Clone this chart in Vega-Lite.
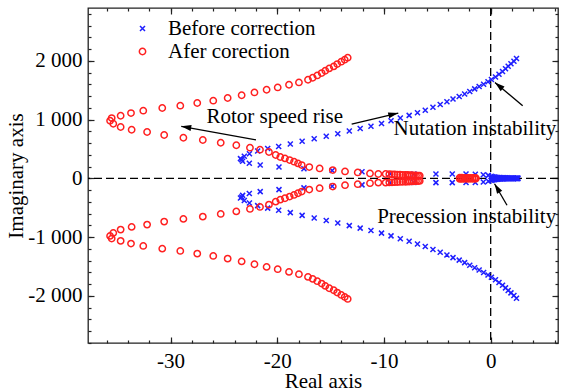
{
"$schema": "https://vega.github.io/schema/vega-lite/v6.json",
"width": 470, "height": 335,
"autosize": {"type": "none"},
"padding": {"left": 88, "top": 8, "right": 5, "bottom": 49},
"background": "white",
"config": {"view": {"stroke": "#222222", "strokeWidth": 1.3}, "font": "Liberation Serif"},
"resolve": {"axis": {"x": "independent", "y": "independent"}},
"datasets": {
"zero": [{"v": 0}],
"notes": [{"re": -20.24, "im": 941, "label": "Rotor speed rise"}, {"re": -1.47, "im": 742, "label": "Nutation instability"}, {"re": -2.25, "im": -761, "label": "Precession instability"}],
"arrows": [{"id": 1, "x0": -22.0, "y0": 655, "x1": -29.0, "y1": 885}, {"id": 2, "x0": -13.03, "y0": 921, "x1": -8.66, "y1": 1111}, {"id": 3, "x0": 3.0, "y0": 1236, "x1": 0.40, "y1": 1632}, {"id": 4, "x0": 1.53, "y0": -458, "x1": 0.36, "y1": -92}],
"pts": [
{"re":-23.34,"im":317,"s":"b"},{"re":-23.09,"im":376,"s":"b"},{"re":-22.61,"im":419,"s":"b"},{"re":-21.84,"im":465,"s":"b"},{"re":-20.90,"im":507,"s":"b"},{"re":-19.87,"im":543,"s":"b"},{"re":-18.78,"im":584,"s":"b"},{"re":-17.67,"im":631,"s":"b"},{"re":-16.54,"im":674,"s":"b"},{"re":-15.41,"im":717,"s":"b"},{"re":-14.33,"im":759,"s":"b"},{"re":-13.25,"im":805,"s":"b"},{"re":-12.23,"im":848,"s":"b"},{"re":-11.22,"im":887,"s":"b"},{"re":-10.23,"im":933,"s":"b"},{"re":-9.34,"im":980,"s":"b"},{"re":-8.47,"im":1028,"s":"b"},{"re":-7.64,"im":1071,"s":"b"},{"re":-6.86,"im":1117,"s":"b"},{"re":-6.13,"im":1159,"s":"b"},{"re":-5.41,"im":1210,"s":"b"},{"re":-4.73,"im":1258,"s":"b"},{"re":-4.10,"im":1304,"s":"b"},{"re":-3.53,"im":1350,"s":"b"},{"re":-2.95,"im":1392,"s":"b"},{"re":-2.44,"im":1435,"s":"b"},{"re":-1.96,"im":1479,"s":"b"},{"re":-1.50,"im":1522,"s":"b"},{"re":-1.08,"im":1562,"s":"b"},{"re":-0.66,"im":1602,"s":"b"},{"re":-0.25,"im":1644,"s":"b"},{"re":0.07,"im":1683,"s":"b"},{"re":0.45,"im":1726,"s":"b"},{"re":0.78,"im":1772,"s":"b"},{"re":1.11,"im":1819,"s":"b"},{"re":1.39,"im":1865,"s":"b"},{"re":1.64,"im":1908,"s":"b"},{"re":1.90,"im":1950,"s":"b"},{"re":2.18,"im":1993,"s":"b"},{"re":2.42,"im":2041,"s":"b"},
{"re":-23.34,"im":-317,"s":"b"},{"re":-23.09,"im":-376,"s":"b"},{"re":-22.61,"im":-419,"s":"b"},{"re":-21.84,"im":-465,"s":"b"},{"re":-20.90,"im":-507,"s":"b"},{"re":-19.87,"im":-543,"s":"b"},{"re":-18.78,"im":-584,"s":"b"},{"re":-17.67,"im":-631,"s":"b"},{"re":-16.54,"im":-674,"s":"b"},{"re":-15.41,"im":-717,"s":"b"},{"re":-14.33,"im":-759,"s":"b"},{"re":-13.25,"im":-805,"s":"b"},{"re":-12.23,"im":-848,"s":"b"},{"re":-11.22,"im":-887,"s":"b"},{"re":-10.23,"im":-933,"s":"b"},{"re":-9.34,"im":-980,"s":"b"},{"re":-8.47,"im":-1028,"s":"b"},{"re":-7.64,"im":-1071,"s":"b"},{"re":-6.86,"im":-1117,"s":"b"},{"re":-6.13,"im":-1159,"s":"b"},{"re":-5.41,"im":-1210,"s":"b"},{"re":-4.73,"im":-1258,"s":"b"},{"re":-4.10,"im":-1304,"s":"b"},{"re":-3.53,"im":-1350,"s":"b"},{"re":-2.95,"im":-1392,"s":"b"},{"re":-2.44,"im":-1435,"s":"b"},{"re":-1.96,"im":-1479,"s":"b"},{"re":-1.50,"im":-1522,"s":"b"},{"re":-1.08,"im":-1562,"s":"b"},{"re":-0.66,"im":-1602,"s":"b"},{"re":-0.25,"im":-1644,"s":"b"},{"re":0.07,"im":-1683,"s":"b"},{"re":0.45,"im":-1726,"s":"b"},{"re":0.78,"im":-1772,"s":"b"},{"re":1.11,"im":-1819,"s":"b"},{"re":1.39,"im":-1865,"s":"b"},{"re":1.64,"im":-1908,"s":"b"},{"re":1.90,"im":-1950,"s":"b"},{"re":2.18,"im":-1993,"s":"b"},{"re":2.42,"im":-2041,"s":"b"},
{"re":-23.45,"im":335,"s":"b"},{"re":-23.25,"im":290,"s":"b"},{"re":-22.62,"im":257,"s":"b"},{"re":-21.6,"im":226,"s":"b"},{"re":-19.84,"im":192,"s":"b"},{"re":-17.5,"im":163,"s":"b"},{"re":-14.85,"im":134,"s":"b"},{"re":-12.06,"im":112,"s":"b"},{"re":-9.44,"im":78,"s":"b"},{"re":-7.19,"im":72,"s":"b"},{"re":-5.13,"im":73,"s":"b"},{"re":-3.6,"im":73,"s":"b"},{"re":-2.31,"im":72,"s":"b"},{"re":-1.44,"im":70,"s":"b"},{"re":-0.69,"im":62,"s":"b"},{"re":-0.22,"im":50,"s":"b"},
{"re":-23.45,"im":-335,"s":"b"},{"re":-23.25,"im":-290,"s":"b"},{"re":-22.62,"im":-257,"s":"b"},{"re":-21.6,"im":-226,"s":"b"},{"re":-19.84,"im":-192,"s":"b"},{"re":-17.5,"im":-163,"s":"b"},{"re":-14.85,"im":-134,"s":"b"},{"re":-12.06,"im":-112,"s":"b"},{"re":-9.44,"im":-78,"s":"b"},{"re":-7.19,"im":-72,"s":"b"},{"re":-5.13,"im":-73,"s":"b"},{"re":-3.6,"im":-73,"s":"b"},{"re":-2.31,"im":-72,"s":"b"},{"re":-1.44,"im":-70,"s":"b"},{"re":-0.69,"im":-62,"s":"b"},{"re":-0.22,"im":-50,"s":"b"},
{"re":0.05,"im":35,"s":"b"},{"re":0.2,"im":28,"s":"b"},{"re":0.35,"im":22,"s":"b"},{"re":0.5,"im":18,"s":"b"},{"re":0.65,"im":15,"s":"b"},{"re":0.8,"im":13,"s":"b"},{"re":0.95,"im":11,"s":"b"},{"re":1.1,"im":10,"s":"b"},{"re":1.25,"im":9,"s":"b"},{"re":1.4,"im":8,"s":"b"},{"re":1.55,"im":8,"s":"b"},{"re":1.7,"im":7,"s":"b"},{"re":1.85,"im":7,"s":"b"},{"re":2.0,"im":6,"s":"b"},{"re":2.15,"im":6,"s":"b"},{"re":2.3,"im":5,"s":"b"},{"re":2.45,"im":5,"s":"b"},{"re":2.55,"im":5,"s":"b"},
{"re":0.05,"im":-35,"s":"b"},{"re":0.2,"im":-28,"s":"b"},{"re":0.35,"im":-22,"s":"b"},{"re":0.5,"im":-18,"s":"b"},{"re":0.65,"im":-15,"s":"b"},{"re":0.8,"im":-13,"s":"b"},{"re":0.95,"im":-11,"s":"b"},{"re":1.1,"im":-10,"s":"b"},{"re":1.25,"im":-9,"s":"b"},{"re":1.4,"im":-8,"s":"b"},{"re":1.55,"im":-8,"s":"b"},{"re":1.7,"im":-7,"s":"b"},{"re":1.85,"im":-7,"s":"b"},{"re":2.0,"im":-6,"s":"b"},{"re":2.15,"im":-6,"s":"b"},{"re":2.3,"im":-5,"s":"b"},{"re":2.45,"im":-5,"s":"b"},{"re":2.55,"im":-5,"s":"b"},
{"re":-35.52,"im":1026,"s":"r"},{"re":-34.68,"im":1065,"s":"r"},{"re":-33.71,"im":1111,"s":"r"},{"re":-32.56,"im":1151,"s":"r"},{"re":-30.78,"im":1197,"s":"r"},{"re":-29.09,"im":1236,"s":"r"},{"re":-27.50,"im":1282,"s":"r"},{"re":-26.0,"im":1321,"s":"r"},{"re":-24.65,"im":1367,"s":"r"},{"re":-23.34,"im":1414,"s":"r"},{"re":-22.14,"im":1462,"s":"r"},{"re":-21.0,"im":1508,"s":"r"},{"re":-19.96,"im":1547,"s":"r"},{"re":-18.9,"im":1593,"s":"r"},{"re":-17.97,"im":1632,"s":"r"},{"re":-17.12,"im":1678,"s":"r"},{"re":-16.68,"im":1712,"s":"r"},{"re":-16.25,"im":1751,"s":"r"},{"re":-15.84,"im":1792,"s":"r"},{"re":-15.5,"im":1831,"s":"r"},{"re":-15.13,"im":1871,"s":"r"},{"re":-14.71,"im":1905,"s":"r"},{"re":-14.38,"im":1945,"s":"r"},{"re":-14.0,"im":1985,"s":"r"},{"re":-13.68,"im":2019,"s":"r"},{"re":-13.40,"im":2053,"s":"r"},
{"re":-35.52,"im":-1026,"s":"r"},{"re":-34.68,"im":-1065,"s":"r"},{"re":-33.71,"im":-1111,"s":"r"},{"re":-32.56,"im":-1151,"s":"r"},{"re":-30.78,"im":-1197,"s":"r"},{"re":-29.09,"im":-1236,"s":"r"},{"re":-27.50,"im":-1282,"s":"r"},{"re":-26.0,"im":-1321,"s":"r"},{"re":-24.65,"im":-1367,"s":"r"},{"re":-23.34,"im":-1414,"s":"r"},{"re":-22.14,"im":-1462,"s":"r"},{"re":-21.0,"im":-1508,"s":"r"},{"re":-19.96,"im":-1547,"s":"r"},{"re":-18.9,"im":-1593,"s":"r"},{"re":-17.97,"im":-1632,"s":"r"},{"re":-17.12,"im":-1678,"s":"r"},{"re":-16.68,"im":-1712,"s":"r"},{"re":-16.25,"im":-1751,"s":"r"},{"re":-15.84,"im":-1792,"s":"r"},{"re":-15.5,"im":-1831,"s":"r"},{"re":-15.13,"im":-1871,"s":"r"},{"re":-14.71,"im":-1905,"s":"r"},{"re":-14.38,"im":-1945,"s":"r"},{"re":-14.0,"im":-1985,"s":"r"},{"re":-13.68,"im":-2019,"s":"r"},{"re":-13.40,"im":-2053,"s":"r"},
{"re":-35.67,"im":980,"s":"r"},{"re":-35.37,"im":929,"s":"r"},{"re":-34.68,"im":873,"s":"r"},{"re":-33.65,"im":827,"s":"r"},{"re":-32.2,"im":788,"s":"r"},{"re":-30.6,"im":737,"s":"r"},{"re":-28.8,"im":691,"s":"r"},{"re":-26.98,"im":652,"s":"r"},{"re":-25.3,"im":606,"s":"r"},{"re":-23.84,"im":563,"s":"r"},{"re":-22.56,"im":521,"s":"r"},{"re":-21.62,"im":487,"s":"r"},{"re":-20.78,"im":448,"s":"r"},{"re":-20.15,"im":397,"s":"r"},{"re":-19.72,"im":363,"s":"r"},{"re":-19.28,"im":339,"s":"r"},{"re":-18.84,"im":311,"s":"r"},{"re":-18.43,"im":283,"s":"r"},{"re":-18.06,"im":254,"s":"r"},{"re":-17.71,"im":226,"s":"r"},{"re":-17.0,"im":192,"s":"r"},{"re":-16.03,"im":168,"s":"r"},{"re":-14.8,"im":140,"s":"r"},{"re":-13.65,"im":117,"s":"r"},{"re":-12.46,"im":100,"s":"r"},{"re":-11.31,"im":83,"s":"r"},{"re":-10.53,"im":73,"s":"r"},{"re":-9.84,"im":73,"s":"r"},{"re":-9.5,"im":70,"s":"r"},{"re":-9.25,"im":68,"s":"r"},{"re":-9.0,"im":66,"s":"r"},{"re":-8.75,"im":64,"s":"r"},{"re":-8.5,"im":62,"s":"r"},{"re":-8.25,"im":60,"s":"r"},{"re":-8.0,"im":58,"s":"r"},{"re":-7.8,"im":56,"s":"r"},{"re":-7.6,"im":54,"s":"r"},{"re":-7.4,"im":52,"s":"r"},{"re":-7.2,"im":50,"s":"r"},{"re":-7.0,"im":48,"s":"r"},{"re":-6.8,"im":46,"s":"r"},{"re":-6.65,"im":44,"s":"r"},
{"re":-35.67,"im":-980,"s":"r"},{"re":-35.37,"im":-929,"s":"r"},{"re":-34.68,"im":-873,"s":"r"},{"re":-33.65,"im":-827,"s":"r"},{"re":-32.2,"im":-788,"s":"r"},{"re":-30.6,"im":-737,"s":"r"},{"re":-28.8,"im":-691,"s":"r"},{"re":-26.98,"im":-652,"s":"r"},{"re":-25.3,"im":-606,"s":"r"},{"re":-23.84,"im":-563,"s":"r"},{"re":-22.56,"im":-521,"s":"r"},{"re":-21.62,"im":-487,"s":"r"},{"re":-20.78,"im":-448,"s":"r"},{"re":-20.15,"im":-397,"s":"r"},{"re":-19.72,"im":-363,"s":"r"},{"re":-19.28,"im":-339,"s":"r"},{"re":-18.84,"im":-311,"s":"r"},{"re":-18.43,"im":-283,"s":"r"},{"re":-18.06,"im":-254,"s":"r"},{"re":-17.71,"im":-226,"s":"r"},{"re":-17.0,"im":-192,"s":"r"},{"re":-16.03,"im":-168,"s":"r"},{"re":-14.8,"im":-140,"s":"r"},{"re":-13.65,"im":-117,"s":"r"},{"re":-12.46,"im":-100,"s":"r"},{"re":-11.31,"im":-83,"s":"r"},{"re":-10.53,"im":-73,"s":"r"},{"re":-9.84,"im":-73,"s":"r"},{"re":-9.5,"im":-70,"s":"r"},{"re":-9.25,"im":-68,"s":"r"},{"re":-9.0,"im":-66,"s":"r"},{"re":-8.75,"im":-64,"s":"r"},{"re":-8.5,"im":-62,"s":"r"},{"re":-8.25,"im":-60,"s":"r"},{"re":-8.0,"im":-58,"s":"r"},{"re":-7.8,"im":-56,"s":"r"},{"re":-7.6,"im":-54,"s":"r"},{"re":-7.4,"im":-52,"s":"r"},{"re":-7.2,"im":-50,"s":"r"},{"re":-7.0,"im":-48,"s":"r"},{"re":-6.8,"im":-46,"s":"r"},{"re":-6.65,"im":-44,"s":"r"},
{"re":-2.9,"im":10,"s":"r"},{"re":-2.7,"im":10,"s":"r"},{"re":-2.5,"im":9,"s":"r"},{"re":-2.3,"im":9,"s":"r"},{"re":-2.1,"im":8,"s":"r"},{"re":-1.9,"im":8,"s":"r"},{"re":-1.7,"im":7,"s":"r"},{"re":-1.5,"im":7,"s":"r"},{"re":-1.4,"im":6,"s":"r"},
{"re":-2.9,"im":-10,"s":"r"},{"re":-2.7,"im":-10,"s":"r"},{"re":-2.5,"im":-9,"s":"r"},{"re":-2.3,"im":-9,"s":"r"},{"re":-2.1,"im":-8,"s":"r"},{"re":-1.9,"im":-8,"s":"r"},{"re":-1.7,"im":-7,"s":"r"},{"re":-1.5,"im":-7,"s":"r"},{"re":-1.4,"im":-6,"s":"r"}
]
},
"layer": [
{"data": {"name": "zero"}, "mark": {"type": "rule", "color": "black", "strokeWidth": 1.3, "strokeDash": [8, 4]},
 "encoding": {"x": {"field": "v", "type": "quantitative", "scale": {"domain": [-37.74, 6.31], "nice": false, "zero": false}, "axis": null}}},
{"data": {"name": "zero"}, "mark": {"type": "rule", "color": "black", "strokeWidth": 1.3, "strokeDash": [8, 4]},
 "encoding": {"y": {"field": "v", "type": "quantitative", "scale": {"domain": [-2803, 2899], "nice": false, "zero": false}, "axis": null}}},
{"data": {"name": "pts"}, "mark": {"type": "point", "filled": false, "strokeWidth": 1.5, "opacity": 1},
 "encoding": {
  "x": {"field": "re", "type": "quantitative", "scale": {"domain": [-37.74, 6.31], "nice": false, "zero": false},
   "axis": {"orient": "bottom", "values": [-30, -20, -10, 0], "domain": false, "grid": false, "tickSize": -6, "tickColor": "#222222", "tickWidth": 1.2, "labelPadding": 13, "labelFont": "Liberation Serif", "labelFontSize": 21, "labelColor": "black", "labelExpr": "(datum.value < 0 ? '-' : '') + abs(datum.value)", "title": "Real axis", "titleFont": "Liberation Serif", "titleFontSize": 21, "titleFontWeight": "normal", "titleColor": "black", "titlePadding": -1}},
  "y": {"field": "im", "type": "quantitative", "scale": {"domain": [-2803, 2899], "nice": false, "zero": false},
   "axis": {"orient": "left", "values": [-2000, -1000, 0, 1000, 2000], "domain": false, "grid": false, "tickSize": -6, "tickColor": "#222222", "tickWidth": 1.2, "labelPadding": 12, "labelFont": "Liberation Serif", "labelFontSize": 21, "labelColor": "black", "labelExpr": "(datum.value < 0 ? '-' : '') + replace(format(abs(datum.value), ','), ',', ' ')", "title": "Imaginary axis", "titleFont": "Liberation Serif", "titleFontSize": 21, "titleFontWeight": "normal", "titleColor": "black", "titlePadding": 1}},
  "color": {"field": "s", "type": "nominal", "scale": {"domain": ["b", "r"], "range": ["#1f1fff", "#ff2020"]},
   "legend": {"orient": "none", "legendX": 44, "legendY": 10, "title": null, "padding": 0, "labelFont": "Liberation Serif", "labelFontSize": 21, "labelColor": "black", "labelOffset": 15, "rowPadding": 1, "symbolStrokeWidth": 1.5, "labelExpr": "datum.value == 'b' ? 'Before correction' : 'Afer corection'"}},
  "shape": {"field": "s", "type": "nominal", "scale": {"domain": ["b", "r"], "range": ["M-1,-1L1,1M-1,1L1,-1", "circle"]}},
  "size": {"field": "s", "type": "nominal", "scale": {"domain": ["b", "r"], "range": [25, 40]}}
 }},
{"data": {"name": "notes"}, "mark": {"type": "text", "font": "Liberation Serif", "fontSize": 21, "align": "center", "baseline": "alphabetic", "color": "black"},
 "encoding": {
  "x": {"field": "re", "type": "quantitative", "scale": {"domain": [-37.74, 6.31], "nice": false, "zero": false},
   "axis": {"orient": "bottom", "values": [-36,-34,-32,-30,-28,-26,-24,-22,-20,-18,-16,-14,-12,-10,-8,-6,-4,-2,0,2,4,6], "domain": false, "grid": false, "labels": false, "title": null, "tickSize": -3, "tickColor": "#222222", "tickWidth": 1.2}},
  "y": {"field": "im", "type": "quantitative", "scale": {"domain": [-2803, 2899], "nice": false, "zero": false},
   "axis": {"orient": "left", "values": [-2800,-2600,-2400,-2200,-2000,-1800,-1600,-1400,-1200,-1000,-800,-600,-400,-200,0,200,400,600,800,1000,1200,1400,1600,1800,2000,2200,2400,2600,2800], "domain": false, "grid": false, "labels": false, "title": null, "tickSize": -3, "tickColor": "#222222", "tickWidth": 1.2}},
  "text": {"field": "label"}
 }},
{"data": {"name": "arrows"}, "mark": {"type": "rule", "color": "black", "strokeWidth": 1.3},
 "encoding": {
  "x": {"field": "x0", "type": "quantitative", "scale": {"domain": [-37.74, 6.31], "nice": false, "zero": false},
   "axis": {"orient": "top", "values": [-30, -20, -10, 0], "domain": false, "grid": false, "labels": false, "title": null, "tickSize": -6, "tickColor": "#222222", "tickWidth": 1.2}},
  "y": {"field": "y0", "type": "quantitative", "scale": {"domain": [-2803, 2899], "nice": false, "zero": false},
   "axis": {"orient": "right", "values": [-2000, -1000, 0, 1000, 2000], "domain": false, "grid": false, "labels": false, "title": null, "tickSize": -6, "tickColor": "#222222", "tickWidth": 1.2}},
  "x2": {"field": "x1"}, "y2": {"field": "y1"}
 }},
{"data": {"name": "arrows"}, "transform": [{"filter": "datum.id == 1"}],
 "mark": {"type": "point", "shape": "M0,0L0.6,2L-0.6,2Z", "filled": true, "color": "black", "opacity": 1, "size": 100, "angle": 280, "strokeWidth": 0},
 "encoding": {
  "x": {"field": "x1", "type": "quantitative", "scale": {"domain": [-37.74, 6.31], "nice": false, "zero": false},
   "axis": {"orient": "top", "values": [-36,-34,-32,-30,-28,-26,-24,-22,-20,-18,-16,-14,-12,-10,-8,-6,-4,-2,0,2,4,6], "domain": false, "grid": false, "labels": false, "title": null, "tickSize": -3, "tickColor": "#222222", "tickWidth": 1.2}},
  "y": {"field": "y1", "type": "quantitative", "scale": {"domain": [-2803, 2899], "nice": false, "zero": false},
   "axis": {"orient": "right", "values": [-2800,-2600,-2400,-2200,-2000,-1800,-1600,-1400,-1200,-1000,-800,-600,-400,-200,0,200,400,600,800,1000,1200,1400,1600,1800,2000,2200,2400,2600,2800], "domain": false, "grid": false, "labels": false, "title": null, "tickSize": -3, "tickColor": "#222222", "tickWidth": 1.2}}
 }},
{"data": {"name": "arrows"}, "transform": [{"filter": "datum.id == 2"}],
 "mark": {"type": "point", "shape": "M0,0L0.6,2L-0.6,2Z", "filled": true, "color": "black", "opacity": 1, "size": 100, "angle": 76.5, "strokeWidth": 0},
 "encoding": {"x": {"field": "x1", "type": "quantitative", "scale": {"domain": [-37.74, 6.31], "nice": false, "zero": false}, "axis": null}, "y": {"field": "y1", "type": "quantitative", "scale": {"domain": [-2803, 2899], "nice": false, "zero": false}, "axis": null}}},
{"data": {"name": "arrows"}, "transform": [{"filter": "datum.id == 3"}],
 "mark": {"type": "point", "shape": "M0,0L0.6,2L-0.6,2Z", "filled": true, "color": "black", "opacity": 1, "size": 100, "angle": 310, "strokeWidth": 0},
 "encoding": {"x": {"field": "x1", "type": "quantitative", "scale": {"domain": [-37.74, 6.31], "nice": false, "zero": false}, "axis": null}, "y": {"field": "y1", "type": "quantitative", "scale": {"domain": [-2803, 2899], "nice": false, "zero": false}, "axis": null}}},
{"data": {"name": "arrows"}, "transform": [{"filter": "datum.id == 4"}],
 "mark": {"type": "point", "shape": "M0,0L0.6,2L-0.6,2Z", "filled": true, "color": "black", "opacity": 1, "size": 100, "angle": 329, "strokeWidth": 0},
 "encoding": {"x": {"field": "x1", "type": "quantitative", "scale": {"domain": [-37.74, 6.31], "nice": false, "zero": false}, "axis": null}, "y": {"field": "y1", "type": "quantitative", "scale": {"domain": [-2803, 2899], "nice": false, "zero": false}, "axis": null}}}
]
}
